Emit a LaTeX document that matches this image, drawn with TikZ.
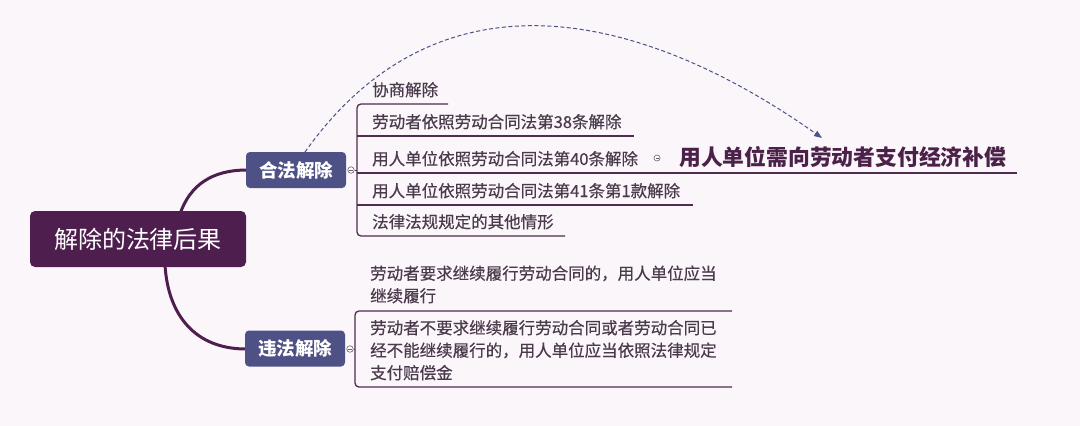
\documentclass[tikz,border=0pt]{standalone}
\usepackage{fontspec}
\newfontfamily\cjk{Noto Sans CJK SC}
\newfontfamily\cjkm{Noto Sans CJK SC}[FakeBold=0.4]
\usetikzlibrary{arrows.meta}
\definecolor{bg}{HTML}{FBF6FA}
\definecolor{rootc}{HTML}{4E1E4E}
\definecolor{branchc}{HTML}{4E5186}
\definecolor{linec}{HTML}{4F2C50}
\definecolor{txtc}{HTML}{4A3A4C}
\definecolor{targetc}{HTML}{4B2049}
\definecolor{togc}{HTML}{6A5A6C}
\begin{document}
\begin{tikzpicture}[x=1pt,y=-1pt,
  rootbox/.style={fill=rootc, rounded corners=5pt, text=white, font=\cjk\fontsize{24}{28}\selectfont, minimum width=216pt, minimum height=56pt, inner sep=0pt},
  branchbox/.style={fill=branchc, rounded corners=4pt, text=white, font=\cjk\bfseries\fontsize{18.5}{22}\selectfont, minimum width=100pt, minimum height=36pt, inner sep=0pt},
  item/.style={anchor=base west, inner sep=0pt, text=txtc, font=\cjkm\fontsize{16.5}{22.5}\selectfont},
  mitem/.style={item, align=left},
  uline/.style={draw=linec, line width=1.3pt},
  bracket/.style={uline, rounded corners=4pt},
  stem/.style={draw=rootc, line width=3pt},
  toggle/.style={circle, draw=togc, fill=white, minimum size=6.5pt, inner sep=0pt, line width=0.6pt},
  minus/.style={draw=togc, line width=0.5pt},
  target/.style={anchor=base west, inner sep=0pt, text=targetc, font=\cjk\bfseries\fontsize{21.8}{26}\selectfont},
  relation/.style={draw=branchc, line width=1pt, dash pattern=on 4pt off 2.5pt, -{Triangle[length=8pt,width=6pt]}}
]
\useasboundingbox[fill=bg] (0,0) rectangle (1080,426);

% stems from root
\coordinate (s1) at (180,214);
\coordinate (s2) at (165,265);
\draw[stem] (s1) .. controls (190,185) and (212,170) .. (247,170);
\draw[stem] (s2) .. controls (168,315) and (195,349) .. (246,349);

% root and branches
\node[rootbox] (root) at (138,239) {解除的法律后果};
\node[branchbox] (legal) at (296,170) {合法解除};
\node[branchbox] (illegal) at (295,348.5) {违法解除};

% upper group
\coordinate (b1top) at (357,104);
\coordinate (b1bot) at (357,236);
\draw[bracket] (448,104) -- (b1top) -- (b1bot) -- (565,236);
\draw[uline] (357,136) -- (634,136);
\draw[uline] (357,173) -- (1017,173);
\draw[uline] (357,205) -- (693,205);
\node[toggle] (t1) at (351,170) {};
\draw[uline, line width=1pt] (t1.east) -- (357,170);
\draw[minus] ([xshift=-1.6pt]t1.center) -- ([xshift=1.6pt]t1.center);

\node[item] (i1) at (372,96) {协商解除};
\node[item] (i2) at (372,128) {劳动者依照劳动合同法第38条解除};
\node[item] (i3) at (372,165) {用人单位依照劳动合同法第40条解除};
\node[item] (i4) at (372,197) {用人单位依照劳动合同法第41条第1款解除};
\node[item] (i5) at (372,228) {法律法规规定的其他情形};

\node[toggle, minimum size=6pt] (t3) at (657,158) {};
\draw[minus] ([xshift=-1.5pt]t3.center) -- ([xshift=1.5pt]t3.center);
\node[target] (res) at (679,165) {用人单位需向劳动者支付经济补偿};
\draw[uline, line width=1.8pt] (res.base west |- 0,173) -- (1017,173);

% relation arrow
\coordinate (rs) at (305,152);
\coordinate (re) at (822,138);
\draw[relation] (rs) .. controls (445,-45) and (655,20) .. (re);

% lower group
\draw[bracket] (732,311) -- (355,311) -- (355,387) -- (732,387);
\node[toggle] (t2) at (350,349) {};
\draw[uline, line width=1pt] (t2.east) -- (355,349);
\draw[minus] ([xshift=-1.6pt]t2.center) -- ([xshift=1.6pt]t2.center);

\node[mitem] (j1) at (370,302) {劳动者要求继续履行劳动合同的，用人单位应当\\继续履行};
\node[mitem] (j2) at (370,379) {劳动者不要求继续履行劳动合同或者劳动合同已\\经不能继续履行的，用人单位应当依照法律规定\\支付赔偿金};
\end{tikzpicture}
\end{document}
